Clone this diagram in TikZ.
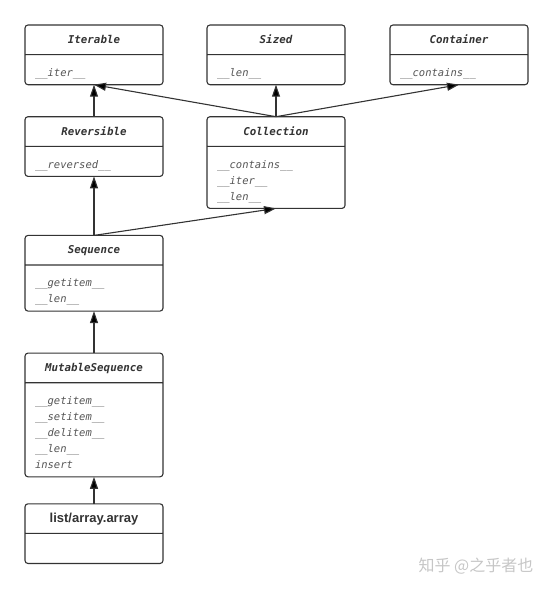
\documentclass[tikz,border=0pt]{standalone}
\usepackage{fontspec}
\setmainfont{Liberation Sans}
\setmonofont{DejaVu Sans Mono}
\newfontfamily\cjkfont{Noto Sans CJK SC}
\usepackage{tikz}
\usetikzlibrary{arrows.meta,positioning,shapes.multipart}
\definecolor{umlline}{HTML}{333333}
\definecolor{umltext}{HTML}{555555}
\newcommand{\clsname}[1]{\makebox[\linewidth]{\rule[-10.5pt]{0pt}{28.5pt}\bfseries\itshape\fontsize{10.8}{16}\selectfont #1}}
\newcommand{\implname}[1]{\makebox[\linewidth]{\rule[-10.5pt]{0pt}{28.5pt}\rmfamily\bfseries\fontsize{13}{16}\selectfont #1}}
\newcommand{\opsbox}[1]{\color{umltext}\itshape\rule{0pt}{21.2pt}#1\rule[-7.8pt]{0pt}{7.8pt}}

\begin{document}
\begin{tikzpicture}[x=1pt,y=-1pt,
  umlclass/.style={rectangle split, rectangle split parts=2, draw=umlline,
    line width=1.1pt, rounded corners=3pt, text=umlline,
    text width=118pt, inner xsep=10pt, inner ysep=0pt, outer sep=0pt,
    font=\ttfamily\fontsize{10.5}{16}\selectfont},
  isa/.style={draw=umlline, line width=1.1pt, -{Triangle[length=12pt,width=8pt]}}]
\useasboundingbox (0,0) rectangle (553,589);
% abstract base classes
\node[umlclass, anchor=north] (iterable) at (94,25)
  {\clsname{Iterable}\nodepart{second}\opsbox{\_\_iter\_\_}};
\node[umlclass, right=44pt of iterable] (sized)
  {\clsname{Sized}\nodepart{second}\opsbox{\_\_len\_\_}};
\node[umlclass, right=45pt of sized] (container)
  {\clsname{Container}\nodepart{second}\opsbox{\_\_contains\_\_}};
\node[umlclass, below=32pt of iterable] (reversible)
  {\clsname{Reversible}\nodepart{second}\opsbox{\_\_reversed\_\_}};
\node[umlclass, below=32pt of sized] (collection)
  {\clsname{Collection}\nodepart{second}\opsbox{\_\_contains\_\_\\\_\_iter\_\_\\\_\_len\_\_}};
\node[umlclass, below=59pt of reversible] (sequence)
  {\clsname{Sequence}\nodepart{second}\opsbox{\_\_getitem\_\_\\\_\_len\_\_}};
\node[umlclass, below=42pt of sequence] (mutseq)
  {\clsname{MutableSequence}\nodepart{second}\opsbox{\_\_getitem\_\_\\\_\_setitem\_\_\\\_\_delitem\_\_\\\_\_len\_\_\\insert}};
% concrete class
\node[umlclass, below=27pt of mutseq] (listarray)
  {\implname{list/array.array}\nodepart{second}\opsbox{}};
% inheritance
\draw[isa] (reversible.north) -- (iterable.south);
\draw[isa] (collection.north) -- (iterable.south);
\draw[isa] (collection.north) -- (sized.south);
\draw[isa] (collection.north) -- (container.south);
\draw[isa] (sequence.north) -- (reversible.south);
\draw[isa] (sequence.north) -- (collection.south);
\draw[isa] (mutseq.north) -- (sequence.south);
\draw[isa] (listarray.north) -- (mutseq.south);
\node[text=gray!45, font=\cjkfont\fontsize{16}{16}\selectfont] (mark) at (476,566) {知乎 @之乎者也};
\end{tikzpicture}
\end{document}
